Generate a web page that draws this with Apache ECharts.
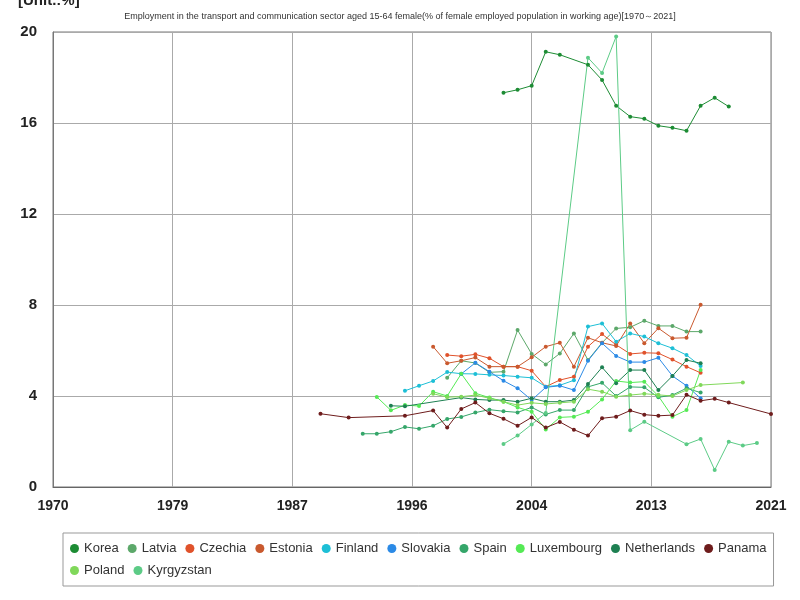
<!DOCTYPE html>
<html>
<head>
<meta charset="utf-8">
<script src="https://cdn.jsdelivr.net/npm/echarts@6/dist/echarts.min.js"></script>
<style>
  html, body { margin: 0; padding: 0; background: #fff; }
  #chart { width: 800px; height: 600px; }
</style>
</head>
<body>
<div id="chart"></div>
<script>
// [year, value] pairs
const korea = [[2002,17.33],[2003,17.46],[2004,17.64],[2005,19.13],[2006,19.0],[2008,18.56],[2009,17.89],[2010,16.76],[2011,16.28],[2012,16.19],[2013,15.88],[2014,15.79],[2015,15.66],[2016,16.76],[2017,17.11],[2018,16.72]];
const latvia = [[1998,4.8],[1999,5.55],[2000,5.45],[2001,5.04],[2002,5.07],[2003,6.9],[2004,5.85],[2005,5.39],[2006,5.87],[2007,6.75],[2008,5.58],[2009,6.34],[2010,6.97],[2011,7.02],[2012,7.31],[2013,7.08],[2014,7.08],[2015,6.83],[2016,6.83]];
const czechia = [[1998,5.8],[1999,5.75],[2000,5.83],[2001,5.66],[2002,5.29],[2003,5.29],[2004,5.11],[2005,4.41],[2006,4.7],[2007,4.85],[2008,6.17],[2009,6.72],[2010,6.25],[2011,5.85],[2012,5.9],[2013,5.88],[2014,5.6],[2015,5.29],[2016,5.02]];
const estonia = [[1997,6.17],[1998,5.44],[1999,5.55],[2000,5.69],[2001,5.29],[2002,5.29],[2003,5.29],[2004,5.7],[2005,6.17],[2006,6.34],[2007,5.29],[2008,6.56],[2009,6.34],[2010,6.2],[2011,7.19],[2012,6.32],[2013,6.98],[2014,6.54],[2015,6.56],[2016,8.01]];
const finland = [[1995,4.23],[1996,4.45],[1997,4.66],[1998,5.05],[1999,4.98],[2000,4.97],[2001,4.93],[2002,4.9],[2003,4.85],[2004,4.8],[2005,4.41],[2006,4.47],[2007,4.69],[2008,7.05],[2009,7.19],[2010,6.39],[2011,6.75],[2012,6.61],[2013,6.32],[2014,6.1],[2015,5.8],[2016,5.32]];
const slovakia = [[1999,4.97],[2000,5.46],[2001,5.07],[2002,4.67],[2003,4.34],[2004,3.82],[2005,4.38],[2006,4.45],[2007,4.26],[2008,5.55],[2009,6.32],[2010,5.76],[2011,5.49],[2012,5.49],[2013,5.68],[2014,4.88],[2015,4.45],[2016,3.9]];
const spain = [[1992,2.34],[1993,2.34],[1994,2.43],[1995,2.64],[1996,2.56],[1997,2.69],[1998,2.99],[1999,3.08],[2000,3.27],[2001,3.4],[2002,3.33],[2003,3.28],[2004,3.5],[2005,3.19],[2006,3.38],[2007,3.38],[2008,4.4],[2009,4.58],[2010,4.0],[2011,4.4],[2012,4.38],[2013,3.94],[2014,4.04],[2015,4.34],[2016,4.15]];
const luxembourg = [[1993,3.96],[1994,3.37],[1995,3.6],[1996,3.56],[1997,4.19],[1998,4.0],[1999,4.98],[2000,4.12],[2001,3.93],[2002,3.75],[2003,3.5],[2004,3.31],[2005,2.53],[2006,3.06],[2007,3.09],[2008,3.31],[2009,3.85],[2010,4.66],[2011,4.59],[2012,4.63],[2013,4.0],[2014,3.09],[2015,3.38],[2016,5.14]];
const netherlands = [[1994,3.57],[1995,3.55],[1999,3.93],[2000,3.85],[2001,3.82],[2002,3.82],[2003,3.75],[2004,3.9],[2005,3.75],[2006,3.75],[2007,3.82],[2008,4.53],[2009,5.26],[2010,4.56],[2011,5.14],[2012,5.14],[2013,4.26],[2014,4.88],[2015,5.58],[2016,5.44]];
const panama = [[1989,3.22],[1991,3.05],[1995,3.13],[1997,3.36],[1998,2.61],[1999,3.43],[2000,3.71],[2001,3.24],[2002,3.0],[2003,2.69],[2004,3.06],[2005,2.61],[2006,2.86],[2007,2.52],[2008,2.26],[2009,3.02],[2010,3.09],[2011,3.36],[2012,3.18],[2013,3.13],[2014,3.16],[2015,4.06],[2016,3.79],[2017,3.88],[2018,3.71],[2021,3.21]];
const poland = [[1997,4.1],[1998,3.95],[1999,3.97],[2000,4.04],[2001,3.9],[2002,3.75],[2003,3.6],[2004,3.7],[2005,3.65],[2006,3.7],[2007,3.75],[2008,4.3],[2009,4.19],[2010,3.97],[2011,4.04],[2012,4.1],[2013,4.05],[2014,4.0],[2015,4.26],[2016,4.48],[2019,4.59]];
const kyrgyzstan = [[2002,1.89],[2003,2.26],[2004,2.75],[2005,3.25],[2008,18.87],[2009,18.2],[2010,19.8],[2011,2.5],[2012,2.87],[2015,1.88],[2016,2.11],[2017,0.75],[2018,1.99],[2019,1.82],[2020,1.93]];

const names = ['Korea','Latvia','Czechia','Estonia','Finland','Slovakia','Spain','Luxembourg','Netherlands','Panama','Poland','Kyrgyzstan'];
const colors = ['#1d8c34','#5ca86a','#e0522b','#c9592e','#1dbfd6','#2b8ae6','#35a66a','#55ea55','#1e8052','#6e1c1c','#80d85a','#5ccb86'];
const seriesData = [korea, latvia, czechia, estonia, finland, slovakia, spain, luxembourg, netherlands, panama, poland, kyrgyzstan];

let chart = echarts.init(document.getElementById('chart'));

const option = {
    animation: false,
    color: colors,
    title: {
        text: 'Employment in the transport and communication sector aged 15-64 female(% of female employed population in working age)[1970\uff5e2021]',
        left: 'center',
        top: 7,
        textStyle: { fontSize: 9, fontWeight: 'normal', color: '#333' }
    },
    graphic: [{
        type: 'text',
        left: 18,
        top: -7,
        style: { text: '[Unit.:%]', fontSize: 15, fontWeight: 'bold', fill: '#222' }
    }],
    grid: {
        left: 53, right: 29, top: 32, bottom: 113,
        show: true, borderColor: '#777', borderWidth: 1
    },
    legend: {
        data: names,
        left: 63, top: 533, width: 700,
        padding: [9, 7, 9, 7],
        borderColor: '#999', borderWidth: 1,
        icon: 'circle', itemWidth: 9, itemHeight: 9, itemGap: 9,
        textStyle: { fontSize: 13, color: '#333' }
    },
    xAxis: {
        type: 'value',
        min: 1970, max: 2021, interval: 8.5,
        axisLabel: { formatter: v => Math.round(v), fontSize: 14, fontWeight: 'bold', color: '#222', margin: 12 },
        axisTick: { show: false },
        axisLine: { lineStyle: { color: '#666' } },
        splitLine: { lineStyle: { color: '#aaa' } }
    },
    yAxis: {
        type: 'value',
        min: 0, max: 20, interval: 4,
        axisLabel: { fontSize: 15, fontWeight: 'bold', color: '#222', margin: 16 },
        axisTick: { show: false },
        axisLine: { show: true, lineStyle: { color: '#777' } },
        splitLine: { lineStyle: { color: '#aaa' } }
    },
    series: names.map((n, i) => ({
        name: n,
        type: 'line',
        data: seriesData[i],
        symbol: 'circle',
        symbolSize: 4,
        lineStyle: { width: 1 }
    }))
};

chart.setOption(option);
</script>
</body>
</html>
